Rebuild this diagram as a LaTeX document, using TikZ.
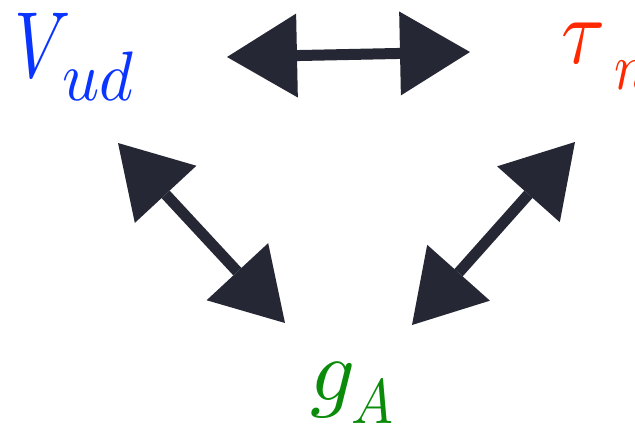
\documentclass[tikz,border=0pt]{standalone}
\usepackage{fontspec}
\usetikzlibrary{arrows.meta}
\definecolor{ink}{RGB}{37,40,52}
\definecolor{vblue}{RGB}{10,52,255}
\definecolor{tred}{RGB}{255,40,0}
\definecolor{ggreen}{RGB}{10,140,10}
\tikzset{
  dblarrow/.style={draw=ink, line width=11pt,
    {Triangle[length=70pt,width=84pt,line width=0pt]}-{Triangle[length=70pt,width=84pt,line width=0pt]}},
  lbl/.style={inner sep=0pt, outer sep=0pt, anchor=base west}
}
\begin{document}
\begin{tikzpicture}[x=1pt,y=-1pt]
\useasboundingbox (0,0) rectangle (635,426);
% labels (10pt math scaled up)
\node[lbl, text=vblue] (vud) at (14,77) {\scalebox{7.0}[9.4]{$V$}\hspace{-8pt}\raisebox{-23pt}{\scalebox{6.5}[7.0]{$ud$}}};
\node[lbl, text=tred] (tau) at (561,63) {\scalebox{8.0}[9.4]{$\tau$}\hspace{9pt}\raisebox{-26pt}{\scalebox{5.6}[6.6]{$n$}}};
\node[lbl, text=ggreen] (ga) at (310,400) {\scalebox{8.8}{$g$}\hspace{-4pt}\raisebox{-23pt}{\scalebox{5.6}[6.3]{$A$}}};
% arrow ends
\coordinate (t1) at (227,57);
\coordinate (t2) at (470,52);
\coordinate (l1) at (118,143);
\coordinate (l2) at (285,323);
\coordinate (r1) at (575,142);
\coordinate (r2) at (412,325);
\draw[dblarrow] (t1) -- (t2);
\draw[dblarrow] (l1) -- (l2);
\draw[dblarrow] (r1) -- (r2);
\end{tikzpicture}
\end{document}
